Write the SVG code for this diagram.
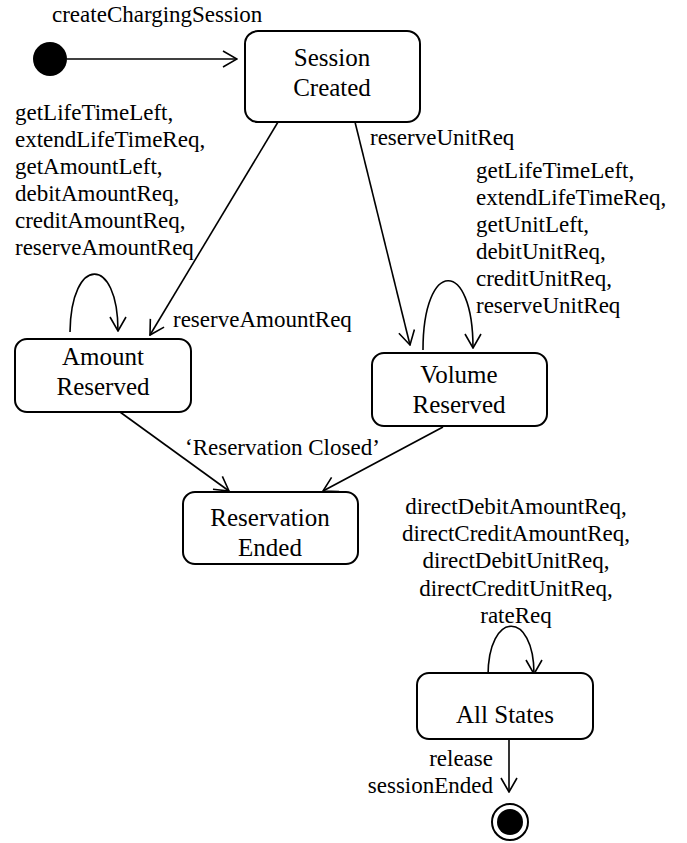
<svg xmlns="http://www.w3.org/2000/svg" width="687" height="843" viewBox="0 0 687 843">
  <style>
    .state { fill: #ffffff; stroke: #000000; stroke-width: 2; }
    .edge { fill: none; stroke: #000000; stroke-width: 1.6; marker-end: url(#open-arrow); }
    .name { font-family: "Liberation Serif", "Times New Roman", serif; font-size: 25px; fill: #000000; text-anchor: middle; }
    .lbl { font-family: "Liberation Serif", "Times New Roman", serif; font-size: 23px; fill: #000000; }
  </style>
  <defs>
    <marker id="open-arrow" viewBox="0 0 16 18" refX="15" refY="9" markerWidth="16" markerHeight="18" markerUnits="userSpaceOnUse" orient="auto">
      <path d="M1,1 L15,9 L1,17" fill="none" stroke="#000000" stroke-width="1.6"/>
    </marker>
  </defs>

  <rect width="687" height="843" fill="#ffffff"/>

  <!-- transitions -->
  <g id="connectors">
    <line class="edge" x1="67" y1="59" x2="237" y2="59"/>
    <line class="edge" x1="278" y1="122" x2="150" y2="335"/>
    <line class="edge" x1="355" y1="122" x2="410" y2="345"/>
    <path class="edge" d="M70,332 C71,255 118,255 118,331"/>
    <path class="edge" d="M423,350 C423,258 473,258 473,348"/>
    <line class="edge" x1="120" y1="412" x2="229" y2="491"/>
    <line class="edge" x1="443" y1="427" x2="323" y2="491"/>
    <path class="edge" d="M488,676 C488,610 534,610 534,674"/>
    <line class="edge" x1="509" y1="739" x2="509" y2="792"/>
  </g>

  <!-- transition labels -->
  <g id="labels">
    <text class="lbl" x="52" y="22">createChargingSession</text>
    <text class="lbl" x="15" y="120">getLifeTimeLeft,</text>
    <text class="lbl" x="15" y="147">extendLifeTimeReq,</text>
    <text class="lbl" x="15" y="174">getAmountLeft,</text>
    <text class="lbl" x="15" y="201">debitAmountReq,</text>
    <text class="lbl" x="15" y="228">creditAmountReq,</text>
    <text class="lbl" x="15" y="255">reserveAmountReq</text>
    <text class="lbl" x="173" y="327">reserveAmountReq</text>
    <text class="lbl" x="370" y="145">reserveUnitReq</text>
    <text class="lbl" x="476" y="178">getLifeTimeLeft,</text>
    <text class="lbl" x="476" y="205">extendLifeTimeReq,</text>
    <text class="lbl" x="476" y="232">getUnitLeft,</text>
    <text class="lbl" x="476" y="259">debitUnitReq,</text>
    <text class="lbl" x="476" y="286">creditUnitReq,</text>
    <text class="lbl" x="476" y="313">reserveUnitReq</text>
    <text class="lbl" x="185" y="455">‘Reservation Closed’</text>
    <g text-anchor="middle">
      <text class="lbl" x="516" y="514">directDebitAmountReq,</text>
      <text class="lbl" x="516" y="541">directCreditAmountReq,</text>
      <text class="lbl" x="516" y="568">directDebitUnitReq,</text>
      <text class="lbl" x="516" y="596">directCreditUnitReq,</text>
      <text class="lbl" x="516" y="623">rateReq</text>
    </g>
    <g text-anchor="end">
      <text class="lbl" x="493" y="766">release</text>
      <text class="lbl" x="493" y="793">sessionEnded</text>
    </g>
  </g>

  <g id="initial">
    <circle cx="50" cy="59" r="17" fill="#000000"/>
  </g>

  <g id="session-created">
    <rect class="state" x="245" y="31" width="175" height="91" rx="13"/>
    <text class="name" x="332" y="66">Session</text>
    <text class="name" x="332" y="96">Created</text>
  </g>

  <g id="amount-reserved">
    <rect class="state" x="15" y="339" width="176" height="73" rx="12"/>
    <text class="name" x="103" y="365">Amount</text>
    <text class="name" x="103" y="395">Reserved</text>
  </g>

  <g id="volume-reserved">
    <rect class="state" x="372" y="353" width="175" height="73" rx="12"/>
    <text class="name" x="459" y="383">Volume</text>
    <text class="name" x="459" y="413">Reserved</text>
  </g>

  <g id="reservation-ended">
    <rect class="state" x="183" y="492" width="175" height="72" rx="12"/>
    <text class="name" x="270" y="526">Reservation</text>
    <text class="name" x="270" y="556">Ended</text>
  </g>

  <g id="all-states">
    <rect class="state" x="417" y="673" width="176" height="66" rx="12"/>
    <text class="name" x="505" y="723">All States</text>
  </g>

  <g id="final">
    <circle cx="510" cy="822" r="18" fill="#ffffff" stroke="#000000" stroke-width="2"/>
    <circle cx="510" cy="822" r="13" fill="#000000"/>
  </g>
</svg>
